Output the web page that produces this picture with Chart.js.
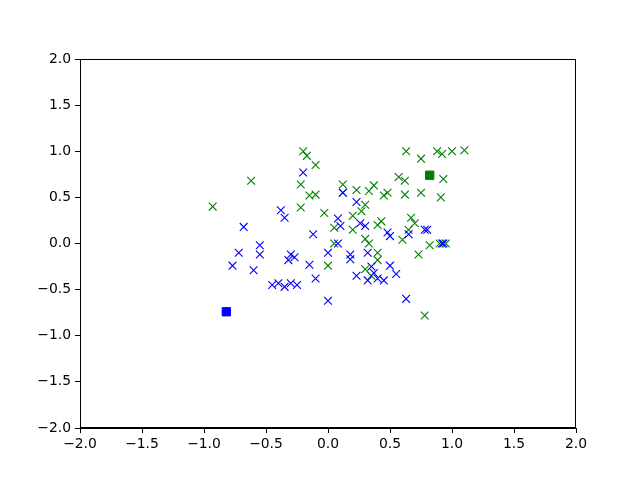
<!DOCTYPE html>
<html>
<head>
<meta charset="utf-8">
<script src="https://cdn.jsdelivr.net/npm/chart.js@4/dist/chart.umd.min.js"></script>
<style>
html,body{margin:0;padding:0;background:#fff;}
#wrap{width:640px;height:480px;}
</style>
</head>
<body>
<div id="wrap"><canvas id="c" width="640" height="480"></canvas></div>
<script>
const tickValues = [-2.0, -1.5, -1.0, -0.5, 0.0, 0.5, 1.0, 1.5, 2.0];

const greenX = [-0.93,-0.62,-0.20,-0.17,-0.10,-0.22,-0.22,-0.15,-0.10,-0.03,0.00,0.05,0.05,0.12,0.12,0.20,0.20,0.23,0.27,0.30,0.33,0.37,0.30,0.33,0.30,0.35,0.40,0.40,0.40,0.43,0.45,0.48,0.57,0.63,0.62,0.62,0.75,0.75,0.88,0.92,1.00,1.10,0.93,0.91,0.60,0.67,0.70,0.65,0.73,0.82,0.78,0.90,0.95];
const greenY = [0.40,0.68,1.00,0.95,0.85,0.64,0.39,0.52,0.53,0.33,-0.24,0.00,0.17,0.64,0.55,0.30,0.15,0.58,0.35,0.42,0.57,0.63,0.05,0.00,-0.28,-0.35,-0.18,-0.10,0.20,0.24,0.52,0.55,0.72,1.00,0.68,0.53,0.92,0.55,1.00,0.97,1.00,1.01,0.70,0.50,0.04,0.28,0.22,0.15,-0.12,-0.02,-0.78,0.00,0.00];

const blueX = [-0.72,-0.77,-0.68,-0.55,-0.55,-0.60,-0.45,-0.40,-0.35,-0.30,-0.25,-0.38,-0.35,-0.32,-0.27,-0.30,-0.20,-0.15,-0.12,-0.10,0.00,0.00,0.08,0.08,0.10,0.12,0.18,0.18,0.23,0.23,0.26,0.30,0.32,0.32,0.35,0.37,0.40,0.45,0.48,0.50,0.50,0.55,0.63,0.65,0.78,0.80,0.92,0.93];
const blueY = [-0.10,-0.24,0.18,-0.02,-0.12,-0.29,-0.45,-0.43,-0.47,-0.43,-0.45,0.36,0.28,-0.18,-0.15,-0.12,0.77,-0.23,0.10,-0.38,-0.62,-0.10,0.00,0.27,0.19,0.55,-0.12,-0.17,-0.35,0.45,0.22,0.19,-0.40,-0.10,-0.25,-0.32,-0.38,-0.40,0.12,0.08,-0.24,-0.33,-0.60,0.10,0.15,0.15,0.00,0.00];

const greenCenter = [0.82, 0.74];
const blueCenter = [-0.82, -0.74];

function pts(xs, ys){ return xs.map((x,i)=>({x:x, y:ys[i]})); }

const FONT = {family: "'DejaVu Sans'", size: 13.9};
const fmt = v => { const s = Number(v).toFixed(1); return s.replace('-', '\u2212'); };

const frame = {
  id: 'frame',
  afterDatasetsDraw(chart){
    const a = chart.chartArea, ctx = chart.ctx;
    ctx.save();
    ctx.strokeStyle = '#000'; ctx.lineWidth = 1;
    ctx.strokeRect(Math.round(a.left)+0.5, Math.round(a.top)+0.5, Math.round(a.right-a.left)-1, Math.round(a.bottom-a.top)-1);
    ctx.restore();
  }
};

new Chart(document.getElementById('c'), {
  type: 'scatter',
  data: {
    datasets: [
      {data: pts([greenCenter[0]],[greenCenter[1]]), pointStyle:'rect', radius:5.9, backgroundColor:'#008000', borderColor:'#008000', borderWidth:1},
      {data: pts([blueCenter[0]],[blueCenter[1]]), pointStyle:'rect', radius:5.9, backgroundColor:'#0000ff', borderColor:'#0000ff', borderWidth:1},
      {data: pts(blueX, blueY), pointStyle:'crossRot', radius:5.5, borderColor:'#0000ff', backgroundColor:'#0000ff', borderWidth:1.1},
      {data: pts(greenX, greenY), pointStyle:'crossRot', radius:5.5, borderColor:'#008000', backgroundColor:'#008000', borderWidth:1.1}
    ]
  },
  options: {
    responsive: false,
    animation: false,
    events: [],
    layout: {padding: {top: 59, right: 64, left: 0, bottom: 0}},
    plugins: {legend: {display:false}, tooltip: {enabled:false}},
    elements: {point: {hoverRadius: 5.5}},
    scales: {
      x: {
        type: 'linear', min: -2, max: 2,
        afterBuildTicks: ax => { ax.ticks = tickValues.map(v=>({value:v})); },
        afterFit: ax => { ax.height = 52; },
        ticks: {color:'#000', font: FONT, padding: 3, maxRotation:0, autoSkip:false, callback: v => fmt(v)},
        grid: {display:true, drawOnChartArea:false, drawTicks:true, tickLength:5, color:'#000', lineWidth:1},
        border: {display:true, color:'#000', width:1}
      },
      y: {
        type: 'linear', min: -2, max: 2,
        afterBuildTicks: ax => { ax.ticks = tickValues.map(v=>({value:v})); },
        afterFit: ax => { ax.width = 80; },
        ticks: {color:'#000', font: FONT, padding: 4, autoSkip:false, callback: v => fmt(v)},
        grid: {display:true, drawOnChartArea:false, drawTicks:true, tickLength:5, color:'#000', lineWidth:1},
        border: {display:true, color:'#000', width:1}
      }
    }
  },
  plugins: [frame]
});
</script>
</body>
</html>
